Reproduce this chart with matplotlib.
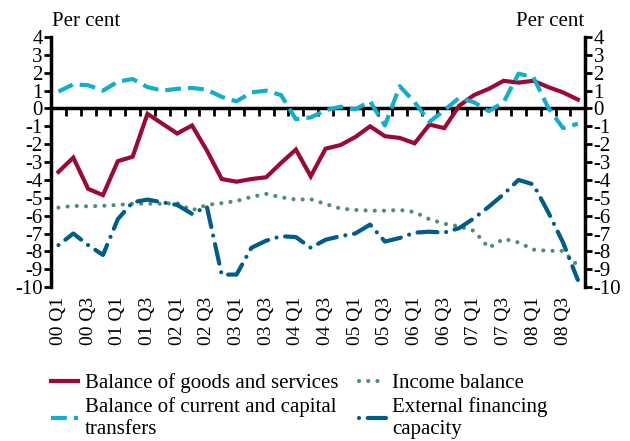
import numpy as np
import matplotlib
matplotlib.use("Agg")
import matplotlib.pyplot as plt

plt.rcParams['font.family'] = ['Liberation Serif', 'DejaVu Serif']
plt.rcParams['axes.unicode_minus'] = False

quarters = [f"{y:02d} Q{q}" for y in range(0, 9) for q in range(1, 5)]

goods_services = [-3.55, -2.75, -4.5, -4.85, -2.95, -2.7, -0.3, -0.85, -1.4, -0.95,
                  -2.35, -3.95, -4.1, -3.95, -3.85, -3.05, -2.3, -3.8, -2.25, -2.05,
                  -1.6, -1.0, -1.55, -1.65, -1.95, -0.9, -1.1, 0.15, 0.75, 1.1,
                  1.55, 1.45, 1.55, 1.2, 0.9, 0.5]
transfers = [0.95, 1.35, 1.3, 1.0, 1.5, 1.65, 1.2, 1.0, 1.1, 1.15,
             1.05, 0.65, 0.4, 0.9, 1.0, 0.75, -0.6, -0.5, -0.1, 0.1,
             -0.05, 0.4, -0.95, 1.25, 0.35, -0.75, -0.1, 0.6, 0.35, -0.15,
             0.35, 1.95, 1.75, 0.05, -1.1, -0.85]
income = [-5.55, -5.45, -5.48, -5.45, -5.4, -5.33, -5.33, -5.33, -5.3, -5.7,
          -5.4, -5.3, -5.18, -4.95, -4.78, -4.97, -5.1, -5.08, -5.35, -5.6,
          -5.68, -5.72, -5.72, -5.68, -5.8, -6.2, -6.45, -6.6, -6.85, -7.8,
          -7.3, -7.5, -7.9, -7.97, -7.97, -8.8]
financing = [-7.65, -7.0, -7.65, -8.2, -6.2, -5.25, -5.1, -5.25, -5.4, -5.9,
             -5.5, -9.3, -9.3, -7.8, -7.4, -7.15, -7.2, -7.8, -7.35, -7.15,
             -7.0, -6.5, -7.45, -7.25, -6.95, -6.9, -6.95, -6.7, -6.15, -5.5,
             -4.8, -4.0, -4.25, -5.8, -7.5, -9.6]

x = np.arange(len(quarters))

fig = plt.figure(figsize=(6.3, 4.41), dpi=100)
ax = fig.add_axes([0.081, 0.349, 0.848, 0.567])

ax.plot(x, goods_services, color='#9b0a35', lw=3, solid_joinstyle='miter',
        label='Balance of goods and services')
ax.plot(x, transfers, color='#12aecb', lw=3, dashes=(3.8, 1.7),
        label='Balance of current and capital\ntransfers')
ax.plot(x, income, color='#4d8f73', lw=3, dashes=(0.01, 2.2), dash_capstyle='round',
        label='Income balance')
ax.plot(x, financing, color='#005c89', lw=3, dashes=(0.01, 2.1, 4.8, 2.1),
        dash_capstyle='round', label='External financing\ncapacity')

ax.set_xlim(-0.5, len(quarters) - 0.5)
ax.set_ylim(-10, 4)
ax.set_yticks(range(-10, 5))

for s in ['top', 'bottom']:
    ax.spines[s].set_visible(False)
for s in ['left', 'right']:
    ax.spines[s].set_linewidth(2.5)

ax.tick_params(axis='y', which='both', left=True, right=True, labelleft=True,
               labelright=True, direction='out', length=5, width=2,
               labelsize=15, pad=1)

ax.set_xticks(x[::2])
ax.set_xticklabels(quarters[::2], rotation=90, fontsize=14)
ax.tick_params(axis='x', length=0, pad=7)

# zero line carrying the quarter boundary ticks (ticks hang below it)
zero = ax.secondary_xaxis(10 / 14)
zero.spines['top'].set_linewidth(2.5)
zero.set_xticks(np.arange(0.5, len(quarters) - 0.5, 1.0))
zero.xaxis.set_ticklabels([])
zero.tick_params(axis='x', direction='in', length=6, width=2,
                 labelbottom=False, labeltop=False)

fig.text(0.083, 0.93, 'Per cent', fontsize=15, ha='left', va='bottom')
fig.text(0.927, 0.93, 'Per cent', fontsize=15, ha='right', va='bottom')

handles, labels = ax.get_legend_handles_labels()
fig.legend(handles, labels,
           loc='upper left', bbox_to_anchor=(0.068, 0.172), ncol=2,
           frameon=False, fontsize=15, handlelength=1.3, handletextpad=0.3,
           columnspacing=1.0, labelspacing=0.2, borderaxespad=0)

fig.savefig('out.png', dpi=100)
